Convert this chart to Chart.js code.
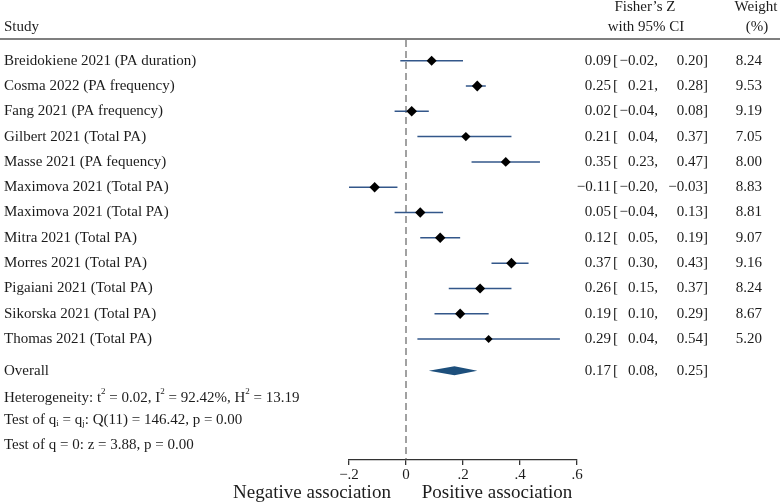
<!DOCTYPE html>
<html>
<head>
<meta charset="utf-8">
<script src="https://cdn.jsdelivr.net/npm/chart.js@4"></script>
<style>
body{margin:0;background:#fff}
canvas{display:block}
</style>
</head>
<body>
<canvas id="forest" width="780" height="504"></canvas>
<script>
// study rows
let studies = [
"Breidokiene 2021 (PA duration)",
"Cosma 2022 (PA frequency)",
"Fang 2021 (PA frequency)",
"Gilbert 2021 (Total PA)",
"Masse 2021 (PA fequency)",
"Maximova 2021 (Total PA)",
"Maximova 2021 (Total PA)",
"Mitra 2021 (Total PA)",
"Morres 2021 (Total PA)",
"Pigaiani 2021 (Total PA)",
"Sikorska 2021 (Total PA)",
"Thomas 2021 (Total PA)"
]
let estimates = [0.09, 0.25, 0.02, 0.21, 0.35, -0.11, 0.05, 0.12, 0.37, 0.26, 0.19, 0.29]
let lower = [-0.02, 0.21, -0.04, 0.04, 0.23, -0.20, -0.04, 0.05, 0.30, 0.15, 0.10, 0.04]
let upper = [0.20, 0.28, 0.08, 0.37, 0.47, -0.03, 0.13, 0.19, 0.43, 0.37, 0.29, 0.54]
let weights = [8.24, 9.53, 9.19, 7.05, 8.00, 8.83, 8.81, 9.07, 9.16, 8.24, 8.67, 5.20]

let overall = {est: 0.17, lo: 0.08, hi: 0.25}

let xTicks = [-0.2, 0, 0.2, 0.4, 0.6]
let xTickLabels = ["\u2212.2", "0", ".2", ".4", ".6"]

let statLines = [
[["Heterogeneity: t","n"],["2","sup"],[" = 0.02, I","n"],["2","sup"],[" = 92.42%, H","n"],["2","sup"],[" = 13.19","n"]],
[["Test of q","n"],["i","sub"],[" = q","n"],["j","sub"],[": Q(11) = 146.42, p = 0.00","n"]],
[["Test of q = 0: z = 3.88, p = 0.00","n"]]
]

let serif = "'Liberation Serif', 'Times New Roman', serif"
let ink = "#1c1c1c"
let overallRow = studies.length + 0.25

function fmt(v){
let s = Math.abs(v).toFixed(2)
return v < 0 ? "\u2212" + s : s
}

function drawRich(ctx, x, y, parts){
let cx = x
parts.forEach(p => {
if(p[1] === "n"){
ctx.font = "15px " + serif
ctx.fillText(p[0], cx, y)
}else{
ctx.font = "9px " + serif
ctx.fillText(p[0], cx, p[1] === "sup" ? y - 6 : y + 4)
}
cx += ctx.measureText(p[0]).width
})
}

let forestPlugin = {
id: "forest",
beforeDatasetsDraw(chart){
let ctx = chart.ctx
let xs = chart.scales.x
let ys = chart.scales.y
let area = chart.chartArea
ctx.save()

// header rule
ctx.strokeStyle = "#555"
ctx.lineWidth = 1.6
ctx.beginPath()
ctx.moveTo(0, area.top - 1)
ctx.lineTo(780, area.top - 1)
ctx.stroke()

// null line
ctx.strokeStyle = "#555"
ctx.lineWidth = 1.1
ctx.setLineDash([7, 4])
ctx.beginPath()
ctx.moveTo(xs.getPixelForValue(0), area.top)
ctx.lineTo(xs.getPixelForValue(0), area.bottom)
ctx.stroke()
ctx.setLineDash([])

// confidence intervals
ctx.strokeStyle = "#33578a"
ctx.lineWidth = 1.5
studies.forEach((s, i) => {
let y = ys.getPixelForValue(i)
ctx.beginPath()
ctx.moveTo(xs.getPixelForValue(lower[i]), y)
ctx.lineTo(xs.getPixelForValue(upper[i]), y)
ctx.stroke()
})

// overall diamond
let oy = ys.getPixelForValue(overallRow)
ctx.fillStyle = "#1d4f7c"
ctx.beginPath()
ctx.moveTo(xs.getPixelForValue(overall.lo), oy)
ctx.lineTo(xs.getPixelForValue(overall.est), oy - 4.5)
ctx.lineTo(xs.getPixelForValue(overall.hi), oy)
ctx.lineTo(xs.getPixelForValue(overall.est), oy + 4.5)
ctx.closePath()
ctx.fill()

// text columns
ctx.fillStyle = ink
ctx.textBaseline = "middle"
ctx.font = "15px " + serif
ctx.textAlign = "left"
ctx.fillText("Study", 4, 27)
ctx.textAlign = "center"
ctx.fillText("Fisher\u2019s Z", 645, 7)
ctx.fillText("with 95% CI", 646, 27)
ctx.fillText("Weight", 756, 7)
ctx.fillText("(%)", 757, 27)

let rowText = (label, y, est, lo, hi, w) => {
ctx.font = "15px " + serif
ctx.textAlign = "left"
ctx.fillText(label, 4, y)
ctx.textAlign = "right"
ctx.fillText(fmt(est), 611, y)
ctx.textAlign = "left"
ctx.fillText("[", 613, y)
ctx.textAlign = "right"
ctx.fillText(fmt(lo) + ",", 658, y)
ctx.fillText(fmt(hi) + "]", 708, y)
if(w !== null) ctx.fillText(w.toFixed(2), 762, y)
}
studies.forEach((s, i) => {
rowText(s, ys.getPixelForValue(i), estimates[i], lower[i], upper[i], weights[i])
})
rowText("Overall", oy, overall.est, overall.lo, overall.hi, null)

ctx.textAlign = "left"
let statY = [oy + 27, oy + 49, oy + 74]
statLines.forEach((parts, k) => drawRich(ctx, 4, statY[k], parts))

// axis captions
ctx.font = "19px " + serif
ctx.textAlign = "center"
ctx.fillText("Negative association", 312, 493)
ctx.fillText("Positive association", 497, 493)

ctx.restore()
}
}

let chart = new Chart(document.getElementById("forest"), {
type: "scatter",
data: {
datasets: [{
data: estimates.map((e, i) => ({x: e, y: i})),
pointStyle: "rectRot",
pointRadius: weights.map(w => Math.sqrt(w) * 1.75),
backgroundColor: "#000",
borderColor: "#000",
borderWidth: 0
}]
},
options: {
responsive: false,
animation: false,
events: [],
layout: {padding: {left: 349, right: 203, top: 40, bottom: 0}},
plugins: {legend: {display: false}, tooltip: {enabled: false}},
scales: {
x: {
type: "linear",
min: -0.2,
max: 0.6,
afterBuildTicks: s => { s.ticks = xTicks.map(v => ({value: v})) },
afterFit: s => { s.height = 44 },
ticks: {
padding: 1,
color: ink,
font: {family: serif, size: 15},
callback: (v) => xTickLabels[xTicks.findIndex(t => Math.abs(t - v) < 1e-9)]
},
grid: {drawOnChartArea: false, tickLength: 5, color: "#333", lineWidth: 1.3},
border: {display: true, color: "#333", width: 1.3}
},
y: {
display: false,
reverse: true,
min: -0.818,
max: 15.78
}
}
},
plugins: [forestPlugin]
})
</script>
</body>
</html>
